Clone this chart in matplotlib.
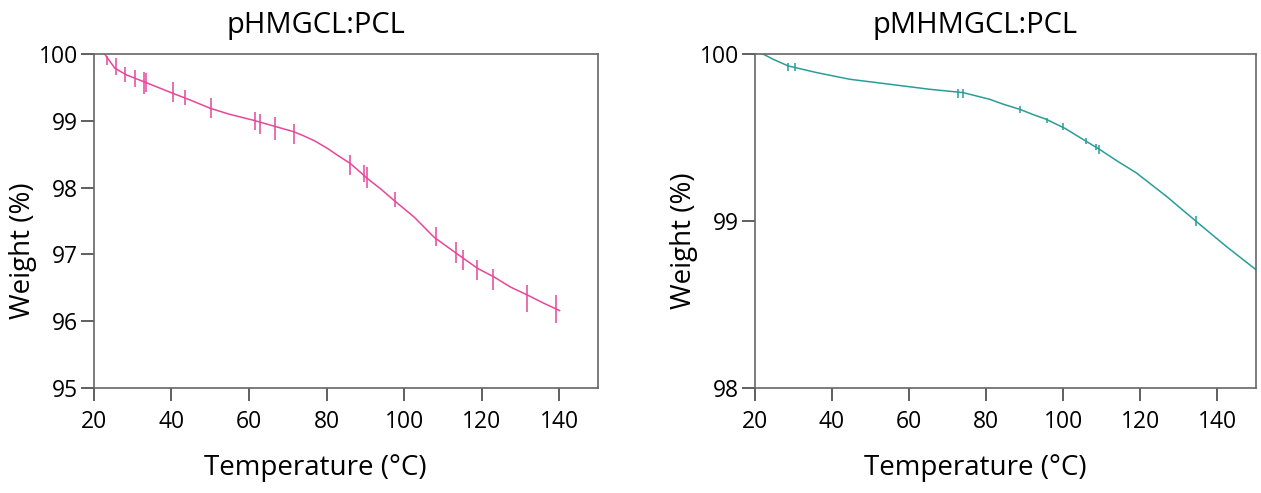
import numpy as np
import matplotlib
matplotlib.use("Agg")
import matplotlib.pyplot as plt

plt.rcParams['font.family'] = ['Open Sans', 'DejaVu Sans']

# ---------- data ----------
# pHMGCL:PCL (left)
temp_a = [22.0, 22.8, 25.4, 28.4, 32.8, 40.1, 45.0, 50.0, 55.0, 61.2, 66.0, 71.5, 74.0,
          77.0, 80.2, 83.0, 86.2, 90.5, 94.0, 97.4, 102.6, 107.7, 113.4, 119.0, 123.3,
          127.5, 131.9, 136.0, 140.1]
weight_a = [100.05, 100.0, 99.79, 99.69, 99.59, 99.42, 99.31, 99.19, 99.10, 99.01,
            98.93, 98.84, 98.78, 98.70, 98.59, 98.48, 98.36, 98.14, 97.98, 97.81,
            97.56, 97.26, 97.02, 96.79, 96.66, 96.51, 96.39, 96.27, 96.16]
spike_t_a = [23.4, 25.6, 27.9, 30.5, 32.8, 33.4, 40.3, 43.4, 50.3, 61.5, 62.8, 66.6,
             71.6, 86.0, 89.6, 90.5, 97.7, 108.2, 113.4, 115.3, 118.8, 122.8, 131.7, 139.2]
spike_lo_a = [99.84, 99.69, 99.59, 99.51, 99.41, 99.43, 99.29, 99.24, 99.04, 98.86,
              98.81, 98.71, 98.66, 98.19, 98.09, 97.99, 97.71, 97.12, 96.87, 96.77,
              96.62, 96.47, 96.14, 95.97]
spike_hi_a = [99.98, 99.94, 99.81, 99.76, 99.74, 99.72, 99.59, 99.46, 99.34, 99.14,
              99.11, 99.06, 98.96, 98.49, 98.34, 98.31, 97.94, 97.41, 97.19, 97.07,
              96.92, 96.79, 96.54, 96.39]

# pMHMGCL:PCL (right)
temp_b = [20.0, 22.2, 24.7, 28.6, 36.0, 44.6, 55.0, 65.3, 74.0, 80.9, 84.5, 88.7, 92.0,
          95.6, 100.5, 105.1, 109.4, 114.0, 118.9, 126.7, 134.4, 142.2, 150.5]
weight_b = [100.02, 100.0, 99.97, 99.93, 99.89, 99.85, 99.82, 99.79, 99.77, 99.73,
            99.70, 99.67, 99.64, 99.61, 99.555, 99.49, 99.43, 99.36, 99.29, 99.15,
            99.00, 98.85, 98.70]
spike_t_b = [28.6, 30.4, 72.7, 74.0, 88.8, 95.7, 99.9, 105.9, 108.5, 109.4, 134.4]
spike_lo_b = [99.90, 99.90, 99.74, 99.74, 99.65, 99.59, 99.545, 99.46, 99.425, 99.405, 98.97]
spike_hi_b = [99.95, 99.95, 99.79, 99.79, 99.69, 99.62, 99.585, 99.50, 99.465, 99.455, 99.03]

xticks = [20, 40, 60, 80, 100, 120, 140]

fig = plt.figure(figsize=(12.61, 4.93), dpi=100)
ax1 = fig.add_axes([0.0745, 0.213, 0.3997, 0.677])
ax2 = fig.add_axes([0.5987, 0.213, 0.3973, 0.677])

panels = [
    (ax1, temp_a, weight_a, spike_t_a, spike_lo_a, spike_hi_a, '#e6479a',
     "pHMGCL:PCL", (95, 100), [95, 96, 97, 98, 99, 100], 0.41),
    (ax2, temp_b, weight_b, spike_t_b, spike_lo_b, spike_hi_b, '#2a9d98',
     "pMHMGCL:PCL", (98, 100), [98, 99, 100], 0.44),
]

for ax, t, w, st, slo, shi, col, title, ylim, yticks, ylab_y in panels:
    ax.plot(t, w, color=col, lw=1.1)
    ax.vlines(st, slo, shi, color=col, lw=1.1)
    ax.set_xlim(20, 150)
    ax.set_ylim(*ylim)
    ax.set_xticks(xticks)
    ax.set_yticks(yticks)
    ax.tick_params(direction='out', length=9.5, width=1.2, colors='#444444',
                   labelsize=16.5, labelcolor='black')
    ax.tick_params(axis='x', pad=6)
    ax.tick_params(axis='y', pad=2)
    for sp in ax.spines.values():
        sp.set_color('#666666')
        sp.set_linewidth(1.2)
    ax.set_title(title, fontsize=21, x=0.44, pad=15)
    ax.set_xlabel("Temperature (°C)", fontsize=20, x=0.44, labelpad=15)
    ax.set_ylabel("Weight (%)", fontsize=20, y=ylab_y, labelpad=1)

fig.savefig("out.png", dpi=100)
